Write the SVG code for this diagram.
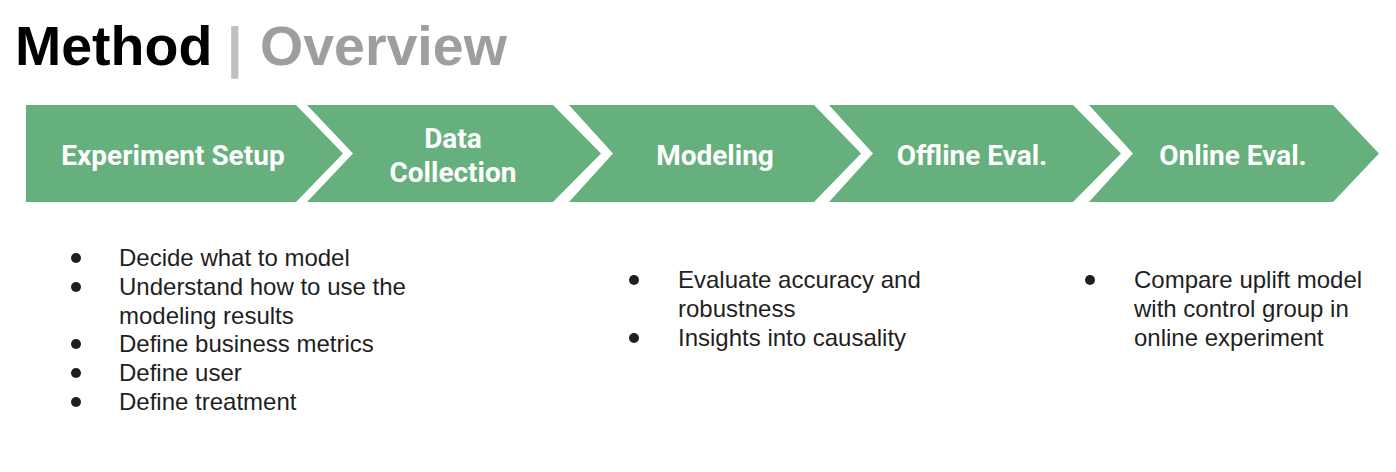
<svg xmlns="http://www.w3.org/2000/svg" width="1396" height="472" viewBox="0 0 1396 472">
  <style>
    .title { font-family: "Liberation Sans", Arial, sans-serif; font-weight: 700; font-size: 55.5px; }
    .step { fill: #65b07c; }
    .label { font-family: Roboto, "Liberation Sans", sans-serif; font-weight: 700; font-size: 28px; fill: #ffffff; text-anchor: middle; }
    .item { font-family: "Liberation Sans", Arial, sans-serif; font-size: 24px; fill: #1f1f1f; }
    .dot { fill: #1f1f1f; }
  </style>
  <rect width="1396" height="472" fill="#ffffff"/>

  <!-- heading -->
  <g id="title">
    <text class="title" x="15" y="65" fill="#000000">Method</text>
    <text class="title" x="227" y="66" fill="#c0c0c0">|</text>
    <text class="title" x="260" y="65" fill="#9e9e9e">Overview</text>
  </g>

  <!-- process chevrons -->
  <g id="step-experiment-setup">
    <polygon class="step" points="26,105 296,105 343,153.5 296,202 26,202"/>
    <text class="label" x="173" y="165">Experiment Setup</text>
  </g>
  <g id="step-data-collection">
    <polygon class="step" points="307,105 553,105 601,153.5 553,202 307,202 353,153.5"/>
    <text class="label" x="453" y="148">Data</text>
    <text class="label" x="453" y="182">Collection</text>
  </g>
  <g id="step-modeling">
    <polygon class="step" points="569,105 814,105 861,153.5 814,202 569,202 613,153.5"/>
    <text class="label" x="715" y="165">Modeling</text>
  </g>
  <g id="step-offline-eval">
    <polygon class="step" points="829,105 1073,105 1121,153.5 1073,202 829,202 873,153.5"/>
    <text class="label" x="972" y="165">Offline Eval.</text>
  </g>
  <g id="step-online-eval">
    <polygon class="step" points="1089,105 1333,105 1379,153.5 1333,202 1089,202 1133,153.5"/>
    <text class="label" x="1233" y="165">Online Eval.</text>
  </g>

  <!-- notes under the steps -->
  <g id="notes-setup">
    <circle class="dot" cx="76" cy="258" r="5"/>
    <text class="item" x="119" y="266">Decide what to model</text>
    <circle class="dot" cx="76" cy="287" r="5"/>
    <text class="item" x="119" y="295">Understand how to use the</text>
    <text class="item" x="119" y="324">modeling results</text>
    <circle class="dot" cx="76" cy="344" r="5"/>
    <text class="item" x="119" y="352">Define business metrics</text>
    <circle class="dot" cx="76" cy="373" r="5"/>
    <text class="item" x="119" y="381">Define user</text>
    <circle class="dot" cx="76" cy="402" r="5"/>
    <text class="item" x="119" y="410">Define treatment</text>
  </g>
  <g id="notes-offline">
    <circle class="dot" cx="634" cy="280" r="5"/>
    <text class="item" x="678" y="288">Evaluate accuracy and</text>
    <text class="item" x="678" y="317">robustness</text>
    <circle class="dot" cx="634" cy="338" r="5"/>
    <text class="item" x="678" y="346">Insights into causality</text>
  </g>
  <g id="notes-online">
    <circle class="dot" cx="1090" cy="280" r="5"/>
    <text class="item" x="1134" y="288">Compare uplift model</text>
    <text class="item" x="1134" y="317">with control group in</text>
    <text class="item" x="1134" y="346">online experiment</text>
  </g>
</svg>
